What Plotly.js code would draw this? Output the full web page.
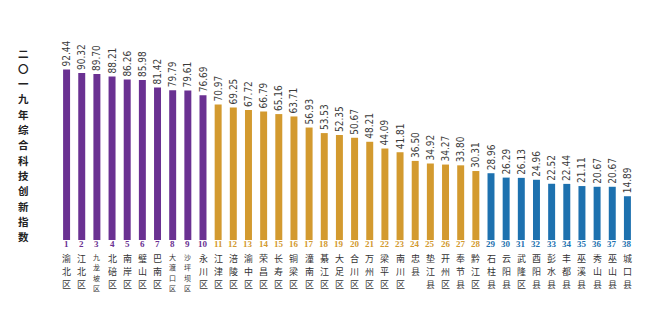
<!DOCTYPE html>
<html><head><meta charset="utf-8">
<script src="https://cdn.plot.ly/plotly-3.0.1.min.js"></script>
<style>html,body{margin:0;padding:0;background:#fff}#c{width:660px;height:330px}</style>
</head><body><div id="c"></div>
<script>
const districts = ['渝北区','江北区','九龙坡区','北碚区','南岸区','璧山区','巴南区','大渡口区','沙坪坝区','永川区',
  '江津区','涪陵区','渝中区','荣昌区','长寿区','铜梁区','潼南区','綦江区','大足区','合川区',
  '万州区','梁平区','南川区','忠县','垫江县','开州区','奉节县','黔江区',
  '石柱县','云阳县','武隆区','酉阳县','彭水县','丰都县','巫溪县','秀山县','巫山县','城口县'];
const scores = [92.44,90.32,89.70,88.21,86.26,85.98,81.42,79.79,79.61,76.69,
  70.97,69.25,67.72,66.79,65.16,63.71,56.93,53.53,52.35,50.67,
  48.21,44.09,41.81,36.50,34.92,34.27,33.80,30.31,
  28.96,26.29,26.13,24.96,22.52,22.44,21.11,20.67,20.67,14.89];
const ranks = ['1','2','3','4','5','6','7','8','9','10','11','12','13','14','15','16','17','18','19','20',
  '21','22','23','24','25','26','27','28','29','30','31','32','33','34','35','36','37','38'];
const tiers = [0,0,0,0,0,0,0,0,0,0, 1,1,1,1,1,1,1,1,1,1,1,1,1,1,1,1,1,1, 2,2,2,2,2,2,2,2,2,2];
const titleText = '二〇一九年综合科技创新指数';

const tierColors = ['#6A3192','#D39A2F','#1D71AF'];
const BASE = -11.9;
const colors = tiers.map(t => tierColors[t]);
const xs = districts.map((_, i) => i);

const trace = {
  type: 'bar', x: xs, y: scores.map(v => v - BASE), base: BASE,
  marker: {color: colors}, width: 0.46,
  text: scores.map(v => v.toFixed(2)), textposition: 'outside', textangle: -90,
  constraintext: 'none', cliponaxis: false,
  textfont: {family: 'Liberation Sans Narrow, DejaVu Sans Condensed, Liberation Sans', size: 10, color: '#3a3a3a'},
  hoverinfo: 'none'
};

const annotations = [];
xs.forEach(i => {
  annotations.push({xref: 'x', yref: 'paper', x: i, y: 0, yanchor: 'top', yshift: 2,
    text: '<b>' + ranks[i] + '</b>', showarrow: false, borderpad: 0,
    font: {family: 'Liberation Serif, DejaVu Serif', size: 9, color: tierColors[tiers[i]]}});
  const chars = Array.from(districts[i]);
  const n = chars.length;
  const fs = n >= 4 ? 7 : 9;
  const sp = n >= 4 ? 10.3 : 13.1;
  chars.forEach((ch, k) => {
    annotations.push({xref: 'x', yref: 'paper', x: i, y: 0, yanchor: 'top',
      yshift: -11 - k * sp, text: ch, showarrow: false, borderpad: 0,
      font: {family: 'Noto Sans CJK SC', size: fs, color: '#333'}});
  });
});
Array.from(titleText).forEach((ch, k) => {
  annotations.push({xref: 'paper', yref: 'paper', x: 0, y: 1, xanchor: 'center', yanchor: 'middle',
    xshift: -36, yshift: -(53 - 20 + k * 15.3), text: ch, showarrow: false, borderpad: 0,
    font: {family: 'Noto Sans CJK SC', size: 10.5, color: '#222', weight: 700}});
});

const layout = {
  width: 660, height: 330,
  margin: {l: 59, r: 25, t: 20, b: 90},
  paper_bgcolor: '#fff', plot_bgcolor: '#fff',
  showlegend: false,
  xaxis: {range: [-0.5, 37.5], showticklabels: false, showgrid: false, zeroline: false, showline: false, ticks: ''},
  yaxis: {range: [BASE, BASE + 220 / 1.634], showticklabels: false, showgrid: false, zeroline: false, showline: false, ticks: ''},
  annotations: annotations
};
Plotly.newPlot('c', [trace], layout, {staticPlot: true, displayModeBar: false});
</script></body></html>
